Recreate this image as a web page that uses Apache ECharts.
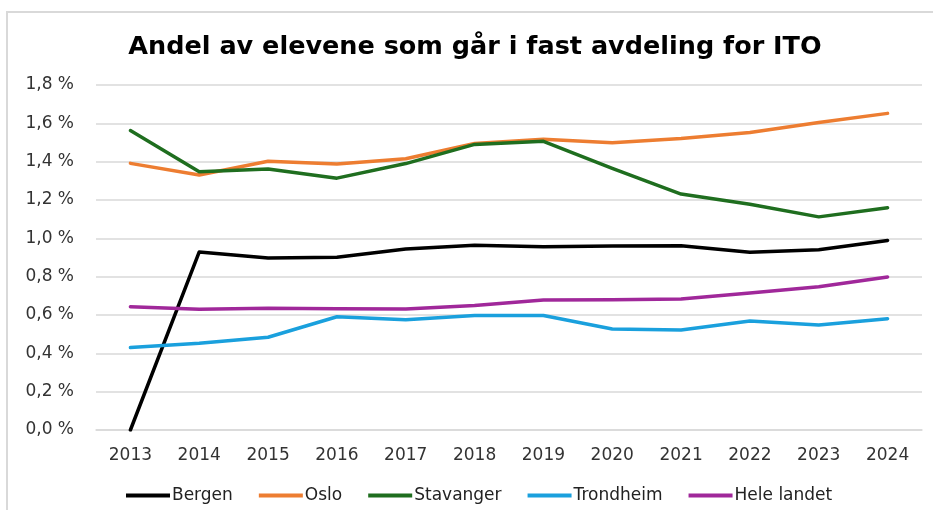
<!DOCTYPE html>
<html>
<head>
<meta charset="utf-8">
<script src="https://cdn.jsdelivr.net/npm/echarts@6/dist/echarts.min.js"></script>
<style>
html,body{margin:0;padding:0;background:#fff;}
#chart{width:933px;height:510px;}
</style>
</head>
<body>
<div id="chart"></div>
<script>
var years = ['2013','2014','2015','2016','2017','2018','2019','2020','2021','2022','2023','2024'];
var bergen = [0.0, 0.929, 0.897, 0.901, 0.944, 0.964, 0.956, 0.960, 0.961, 0.928, 0.940, 0.989];
var oslo = [1.391, 1.330, 1.402, 1.388, 1.415, 1.495, 1.517, 1.499, 1.521, 1.552, 1.604, 1.652];
var stavanger = [1.562, 1.348, 1.362, 1.314, 1.390, 1.490, 1.506, 1.365, 1.231, 1.178, 1.112, 1.160];
var trondheim = [0.430, 0.452, 0.484, 0.591, 0.575, 0.597, 0.597, 0.527, 0.522, 0.569, 0.548, 0.581];
var heleLandet = [0.643, 0.630, 0.635, 0.632, 0.631, 0.649, 0.678, 0.679, 0.683, 0.715, 0.747, 0.798];
var seriesNames = ['Bergen','Oslo','Stavanger','Trondheim','Hele landet'];
var seriesColors = ['#000000','#ED7D31','#1F6E1F','#1AA0DD','#A0289A'];
var seriesData = [bergen, oslo, stavanger, trondheim, heleLandet];
var titleText = 'Andel av elevene som går i fast avdeling for ITO';

var FONT = 'DejaVu Sans';
var chart = echarts.init(document.getElementById('chart'), null, {renderer:'canvas'});
var series = seriesNames.map(function(n,i){
  return {
    name:n, type:'line', data:seriesData[i], symbol:'none', smooth:false,
    lineStyle:{width:3.5, color:seriesColors[i], cap:'round', join:'round'},
    itemStyle:{color:seriesColors[i]}
  };
});
chart.setOption({
  animation:false,
  backgroundColor:'#ffffff',
  graphic:[{type:'rect', shape:{x:7, y:12, width:1000, height:600}, style:{fill:'none', stroke:'#d9d9d9', lineWidth:2}, z:-1}],
  title:{
    text:titleText, left:470, top:29, textAlign:'center',
    textStyle:{fontFamily:FONT, fontWeight:'bold', fontSize:25.5, color:'#000'}
  },
  legend:{
    data:seriesNames, left:121, top:482, icon:'rect', itemWidth:44, itemHeight:4, itemGap:26,
    textStyle:{fontFamily:FONT, fontSize:17, color:'#222', padding:[0,0,0,-3]}
  },
  grid:{left:96, right:11, top:85, bottom:80, containLabel:false},
  xAxis:{
    type:'category', data:years, boundaryGap:true,
    axisLine:{show:true, lineStyle:{color:'#d9d9d9', width:1.5}},
    axisTick:{show:false},
    axisLabel:{fontFamily:FONT, fontSize:17, color:'#333', margin:17}
  },
  yAxis:{
    type:'value', min:0, max:1.8, interval:0.2,
    axisLine:{show:false}, axisTick:{show:false},
    splitLine:{lineStyle:{color:'#d9d9d9', width:1.5}},
    axisLabel:{fontFamily:FONT, fontSize:17, color:'#333', margin:22,
      formatter:function(v){return v.toFixed(1).replace('.',',') + ' %';}}
  },
  series:series
});
</script>
</body>
</html>
